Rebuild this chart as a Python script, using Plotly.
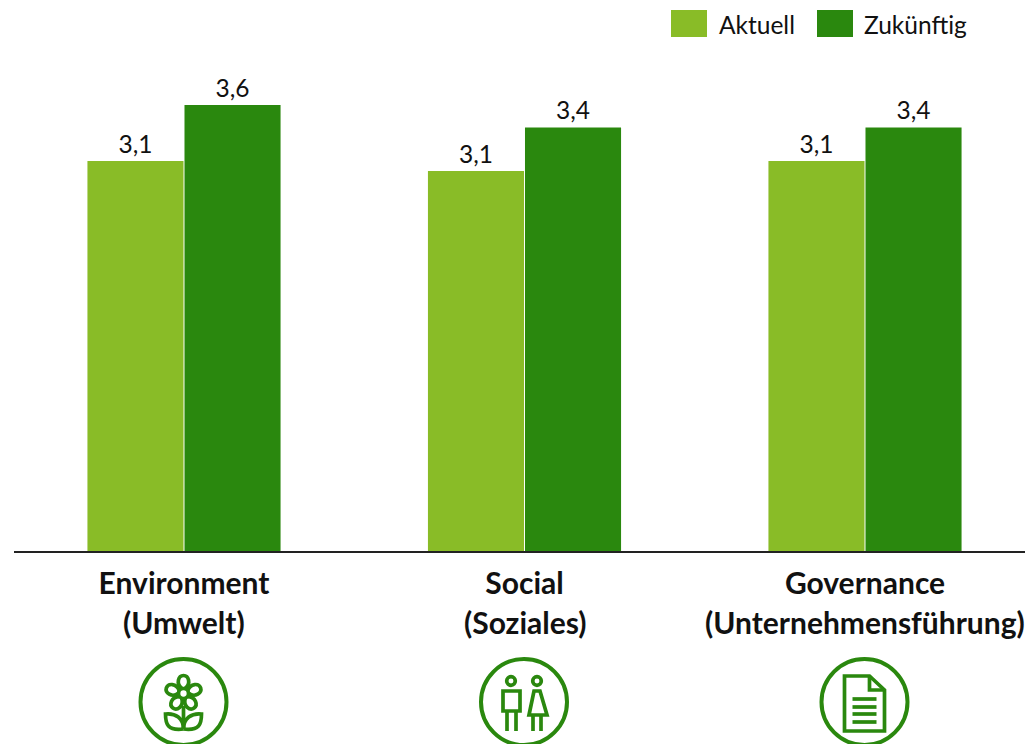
import math
import plotly.graph_objects as go

# Survey scores per ESG dimension
categories = ["Environment", "Social", "Governance"]
subtitles = ["(Umwelt)", "(Soziales)", "(Unternehmensführung)"]
aktuell = [3.14, 3.06, 3.14]
zukuenftig = [3.59, 3.41, 3.41]
series_names = ["Aktuell", "Zukünftig"]

LIGHT = "#89BC27"
DARK = "#2A880E"
FONT = "Lato"
W, H = 1025, 744
ML, MB = 14, 193
PLOT_W, PLOT_H = W - ML, H - MB
GROUP_PX = 340.5
FIRST_GROUP_PX = 184.0
PX_PER_UNIT = 124.2


def px(x):
    return (x - ML) / PLOT_W


def py(y):
    return (H - MB - y) / PLOT_H


def flip(cmds):
    out = []
    for c in cmds:
        letter, pts = c[0], c[1:]
        coords = " ".join(f"{x:.2f},{-y:.2f}" for x, y in pts)
        out.append(f"{letter}{coords}")
    return " ".join(out)


def icon_shapes(cx, cy, items):
    """Icon parts given in pixel offsets from the icon centre (y pointing down)."""
    shapes = []
    base = dict(xref="paper", yref="paper", xsizemode="pixel", ysizemode="pixel",
                xanchor=px(cx), yanchor=py(cy), line=dict(color=DARK, width=3.7),
                fillcolor="rgba(0,0,0,0)", layer="above")
    for item in items:
        if item[0] == "circle":
            _, x, y, r = item[:4]
            width = item[4] if len(item) > 4 else 3.7
            s = dict(base, type="circle", x0=x - r, x1=x + r, y0=-y - r, y1=-y + r,
                     line=dict(color=DARK, width=width))
        else:
            s = dict(base, type="path", path=flip(item[1]))
        shapes.append(s)
    return shapes


def petal(angle):
    a = math.radians(angle)

    def rot(x, y):
        return (x * math.cos(a) - y * math.sin(a), x * math.sin(a) + y * math.cos(a) - 8.5)

    return ("path", [("M", rot(-1.5, -5)), ("C", rot(-8, -10), rot(-5, -18), rot(0, -18)),
                     ("C", rot(5, -18), rot(8, -10), rot(1.5, -5))])


flower = [("circle", 0, 0, 43, 4)] + [petal(k * 72) for k in range(5)] + [
    ("circle", 0, -8.5, 5),
    ("path", [("M", (0, 4)), ("L", (0, 27))]),
    ("path", [("M", (0, 27)), ("C", (-16, 29), (-18, 22), (-18, 12)), ("C", (-8, 11), (0, 16), (0, 27))]),
    ("path", [("M", (0, 27)), ("C", (16, 29), (18, 22), (18, 12)), ("C", (8, 11), (0, 16), (0, 27))]),
]
people = [
    ("circle", 0, 0, 43, 4),
    ("circle", -13, -21, 4.3),
    ("path", [("M", (-21, -11)), ("L", (-4, -11)), ("L", (-4, 9)), ("L", (-21, 9)), ("Z",)]),
    ("path", [("M", (-17, 9)), ("L", (-17, 29))]),
    ("path", [("M", (-8, 9)), ("L", (-8, 29))]),
    ("circle", 13, -21, 4.3),
    ("path", [("M", (10, -11)), ("L", (16, -11)), ("L", (23, 13)), ("L", (5, 13)), ("Z",)]),
    ("path", [("M", (9, 13)), ("L", (9, 29))]),
    ("path", [("M", (17, 13)), ("L", (17, 29))]),
]
document = [
    ("circle", 0, 0, 43, 4),
    ("path", [("M", (-20, -26)), ("L", (5, -26)), ("L", (20, -12)), ("L", (20, 29)), ("L", (-20, 29)), ("Z",)]),
    ("path", [("M", (5, -26)), ("L", (5, -12)), ("L", (20, -12))]),
] + [("path", [("M", (-12, y)), ("L", (12, y))]) for y in (-3, 5, 12, 20)]

fig = go.Figure()
for name, values, color in zip(series_names, [aktuell, zukuenftig], [LIGHT, DARK]):
    fig.add_trace(go.Bar(
        name=name, x=list(range(len(categories))), y=values,
        # the clear outline only lifts the value labels off the bar tops
        marker=dict(color=color, line=dict(width=3, color="rgba(0,0,0,0)")),
        texttemplate="%{y:.1f}", textposition="outside", cliponaxis=False,
        textfont=dict(family=FONT, size=24.5, color="#111111"),
    ))

shapes = []
# Hand-placed legend swatches
for x0, x1, color in [(671, 707, LIGHT), (817, 853, DARK)]:
    shapes.append(dict(type="rect", xref="paper", yref="paper", x0=px(x0), x1=px(x1), y0=py(37), y1=py(10),
                       fillcolor=color, line=dict(width=0)))
for i, icon in enumerate([flower, people, document]):
    shapes += icon_shapes(FIRST_GROUP_PX + i * GROUP_PX - 0.5, 702, icon)

annotations = [
    dict(x=i, xref="x", y=py(622), yref="paper", text=f"<b>{t}</b>", showarrow=False, yanchor="middle",
         xanchor="center", font=dict(family=FONT, size=30, color="#111111"))
    for i, t in enumerate(subtitles)
]
for name, x in zip(series_names, [717, 862]):
    annotations.append(dict(x=px(x), xref="paper", y=py(24), yref="paper", text=name, showarrow=False,
                            xanchor="left", yanchor="middle", font=dict(family=FONT, size=24.5, color="#111111")))

fig.update_layout(
    width=W, height=H, autosize=False, margin=dict(l=ML, r=0, t=0, b=MB, pad=0),
    paper_bgcolor="white", plot_bgcolor="white", separators=",.", showlegend=False,
    barmode="group", bargap=0.43, bargroupgap=0.01,
    shapes=shapes, annotations=annotations,
    xaxis=dict(range=[-(FIRST_GROUP_PX - ML) / GROUP_PX, (W - FIRST_GROUP_PX) / GROUP_PX],
               tickmode="array", tickvals=list(range(len(categories))),
               ticktext=[f"<b>{c}</b>" for c in categories], ticks="", showgrid=False, zeroline=False,
               showline=True, linecolor="#222222", linewidth=2, ticklabelstandoff=5,
               tickfont=dict(family=FONT, size=30, color="#111111")),
    yaxis=dict(range=[0, PLOT_H / PX_PER_UNIT], visible=False, showgrid=False, zeroline=False),
)
fig.write_html("out.html")
